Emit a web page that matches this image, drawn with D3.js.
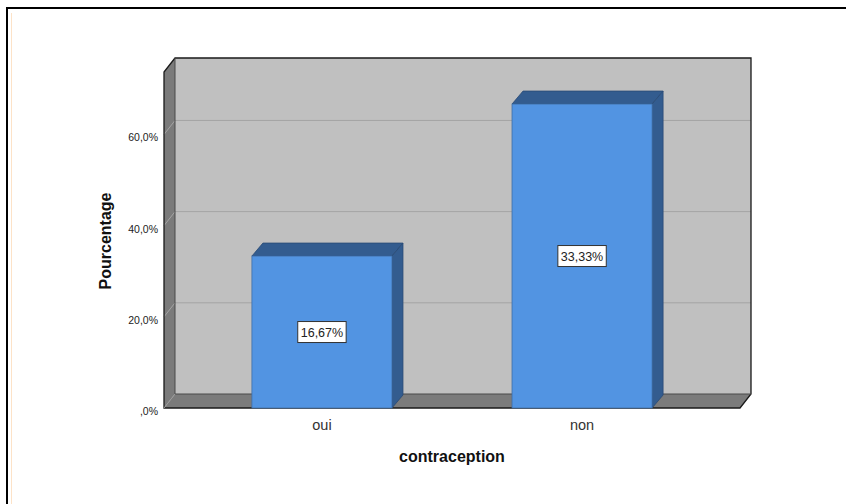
<!DOCTYPE html>
<html>
<head>
<meta charset="utf-8">
<script src="https://cdn.jsdelivr.net/npm/d3@7"></script>
<style>
  html, body { margin: 0; padding: 0; background: #fff; }
  svg { display: block; font-family: "Liberation Sans", Arial, sans-serif; }
</style>
</head>
<body>
<svg id="chart" width="846" height="504"></svg>
<script>
// Categories of the "contraception" variable
const categories = ["oui", "non"];
// Bar heights: percentage of valid answers
const validPercent = [33.33, 66.67];
// Percentage labels printed on the bars (percent of all cases)
const labelPercent = [16.67, 33.33];
// Y axis ticks
const yTicks = [0, 20, 40, 60];
const yMax = 73.7;

const svg = d3.select("#chart");
const W = 846, H = 504;

// Front plane of the 3D frame and the depth offset to the back wall
const front = { left: 164, right: 740, top: 72, bottom: 408 };
const depth = { dx: 11, dy: -14 };
const barDepth = { dx: 11, dy: -13 };

const x = d3.scaleBand()
  .domain(categories)
  .range([front.left, front.right])
  .paddingInner(0.4615)
  .paddingOuter(0.338);

const y = d3.scaleLinear().domain([0, yMax]).range([front.bottom, front.top]);

const fmtAxis = v => v === 0 ? ",0%" : d3.format(".1f")(v).replace(".", ",") + "%";
const fmtLabel = v => d3.format(".2f")(v).replace(".", ",") + "%";

// Outer frame
svg.append("path")
  .attr("d", `M7,${H} L7,8 L${W},8`)
  .attr("fill", "none").attr("stroke", "#000").attr("stroke-width", 2);
svg.append("line")
  .attr("x1", 11.5).attr("x2", 11.5).attr("y1", 13).attr("y2", H)
  .attr("stroke", "#fde3c8").attr("stroke-width", 1);

const g = svg.append("g");
const bx = d => d + depth.dx, by = d => d + depth.dy;

// Back wall
g.append("rect")
  .attr("x", bx(front.left)).attr("y", by(front.top))
  .attr("width", front.right - front.left).attr("height", front.bottom - front.top)
  .attr("fill", "#c0c0c0");

// Left wall
g.append("path")
  .attr("d", `M${front.left},${front.bottom} L${front.left},${front.top} L${bx(front.left)},${by(front.top)} L${bx(front.left)},${by(front.bottom)} Z`)
  .attr("fill", "#7b7b7b");

// Floor
g.append("path")
  .attr("d", `M${front.left},${front.bottom} L${bx(front.left)},${by(front.bottom)} L${bx(front.right)},${by(front.bottom)} L${front.right},${front.bottom} Z`)
  .attr("fill", "#7b7b7b");

// Gridlines on back wall and left wall
yTicks.filter(t => t > 0).forEach(t => {
  g.append("line")
    .attr("x1", bx(front.left)).attr("x2", bx(front.right))
    .attr("y1", by(y(t))).attr("y2", by(y(t)))
    .attr("stroke", "#a4a4a4").attr("stroke-width", 1);
  g.append("line")
    .attr("x1", front.left).attr("x2", bx(front.left))
    .attr("y1", y(t)).attr("y2", by(y(t)))
    .attr("stroke", "#a4a4a4").attr("stroke-width", 1);
});

// Frame outlines
g.append("path")
  .attr("d", `M${front.left},${front.bottom} L${front.left},${front.top} L${bx(front.left)},${by(front.top)} L${bx(front.right)},${by(front.top)} L${bx(front.right)},${by(front.bottom)} L${front.right},${front.bottom} Z`)
  .attr("fill", "none").attr("stroke", "#1a1a1a").attr("stroke-width", 1.3);
g.append("path")
  .attr("d", `M${bx(front.left)},${by(front.top)} L${bx(front.left)},${by(front.bottom)} L${bx(front.right)},${by(front.bottom)}`)
  .attr("fill", "none").attr("stroke", "#4a4a4a").attr("stroke-width", 1);
g.append("line")
  .attr("x1", front.left).attr("x2", bx(front.left))
  .attr("y1", front.bottom).attr("y2", by(front.bottom))
  .attr("stroke", "#9a9a9a").attr("stroke-width", 1);

// Y axis tick labels
g.selectAll(".ytick").data(yTicks).join("text")
  .attr("x", 158).attr("y", d => y(d) + 7)
  .attr("text-anchor", "end")
  .attr("font-size", 10.5).attr("fill", "#222")
  .text(d => fmtAxis(d));

// Bars
const bars = g.selectAll(".bar").data(categories.map((c, i) => ({ c, v: validPercent[i], l: labelPercent[i] })))
  .join("g").attr("class", "bar");

bars.append("path") // top face
  .attr("d", d => {
    const x0 = x(d.c), x1 = x0 + x.bandwidth(), yt = y(d.v);
    return `M${x0},${yt} L${x0 + barDepth.dx},${yt + barDepth.dy} L${x1 + barDepth.dx},${yt + barDepth.dy} L${x1},${yt} Z`;
  })
  .attr("fill", "#335c8f").attr("stroke", "#2a4a75").attr("stroke-width", 0.8);

bars.append("path") // side face
  .attr("d", d => {
    const x1 = x(d.c) + x.bandwidth(), yt = y(d.v), yb = y(0);
    return `M${x1},${yt} L${x1 + barDepth.dx},${yt + barDepth.dy} L${x1 + barDepth.dx},${yb + barDepth.dy} L${x1},${yb} Z`;
  })
  .attr("fill", "#335c8f").attr("stroke", "#2a4a75").attr("stroke-width", 0.8);

bars.append("rect") // front face
  .attr("x", d => x(d.c)).attr("y", d => y(d.v))
  .attr("width", x.bandwidth()).attr("height", d => y(0) - y(d.v))
  .attr("fill", "#5294e2").attr("stroke", "#3f6fa8").attr("stroke-width", 0.8);

// Value labels in white boxes
bars.each(function (d) {
  const cx = x(d.c) + x.bandwidth() / 2;
  const cy = (y(d.v) + y(0)) / 2;
  const sel = d3.select(this);
  const t = sel.append("text")
    .attr("x", cx).attr("y", cy + 4.5)
    .attr("text-anchor", "middle")
    .attr("font-size", 12.5).attr("fill", "#222")
    .text(fmtLabel(d.l));
  const w = t.node().getComputedTextLength() + 6;
  sel.insert("rect", "text")
    .attr("x", cx - w / 2).attr("y", cy - 10.5)
    .attr("width", w).attr("height", 21)
    .attr("fill", "#fff").attr("stroke", "#333").attr("stroke-width", 1);
});

// Category labels
g.selectAll(".xtick").data(categories).join("text")
  .attr("x", d => x(d) + x.bandwidth() / 2).attr("y", 430)
  .attr("text-anchor", "middle")
  .attr("font-size", 14.5).attr("fill", "#333")
  .text(d => d);

// Axis titles
svg.append("text")
  .attr("x", 452).attr("y", 462)
  .attr("text-anchor", "middle")
  .attr("font-size", 16).attr("font-weight", "bold").attr("fill", "#111")
  .text("contraception");

svg.append("text")
  .attr("transform", "translate(111,241) rotate(-90)")
  .attr("text-anchor", "middle")
  .attr("font-size", 16).attr("font-weight", "bold").attr("fill", "#111")
  .text("Pourcentage");
</script>
</body>
</html>
